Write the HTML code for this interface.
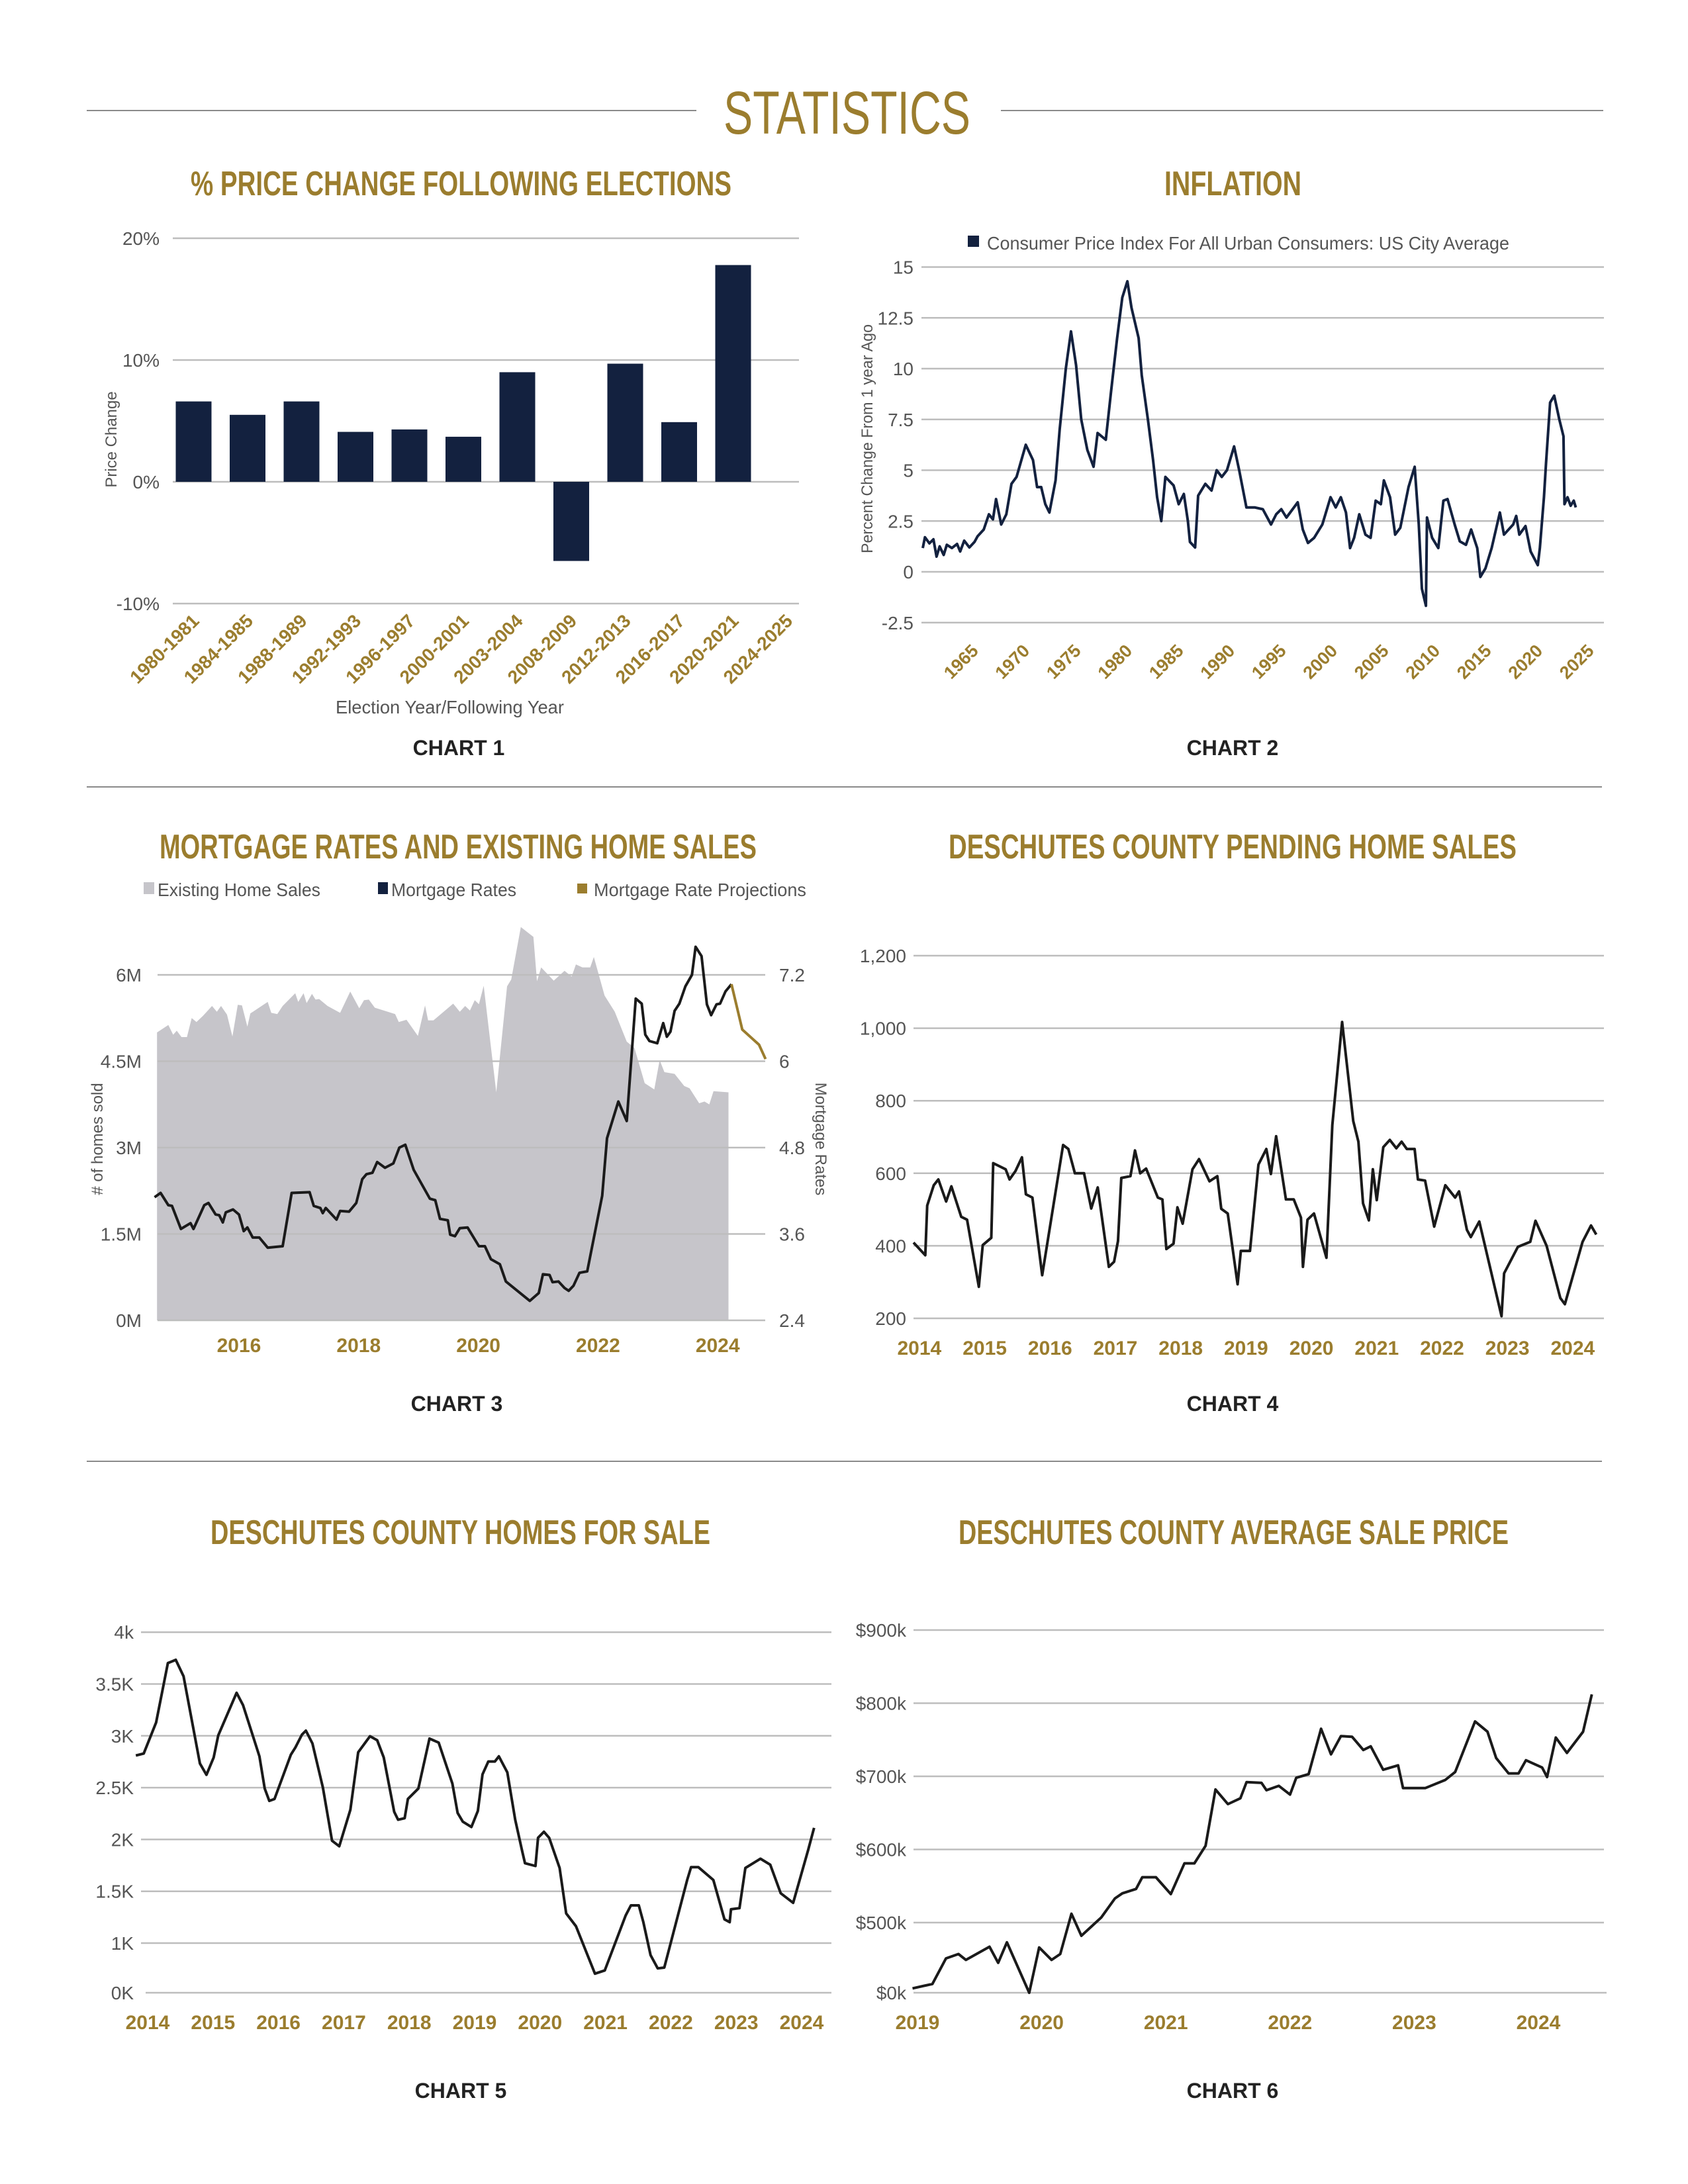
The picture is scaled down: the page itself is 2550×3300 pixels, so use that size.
<!DOCTYPE html>
<html><head><meta charset="utf-8"><style>
html,body{margin:0;padding:0;background:#fff;}
svg{display:block;font-family:"Liberation Sans",sans-serif;}
</style></head><body>
<svg id="page" xmlns="http://www.w3.org/2000/svg" width="2550" height="3300" viewBox="0 0 2550 3300">
<rect x="0" y="0" width="2550" height="3300" fill="#fff"/>
<line x1="131" y1="167" x2="1052" y2="167" stroke="#8a8a8a" stroke-width="2"/>
<line x1="1512" y1="167" x2="2422" y2="167" stroke="#8a8a8a" stroke-width="2"/>
<text x="1093" y="202" font-size="92" fill="#9b7d2e" textLength="373" lengthAdjust="spacingAndGlyphs">STATISTICS</text>
<line x1="131" y1="1189" x2="2420" y2="1189" stroke="#8a8a8a" stroke-width="2"/>
<line x1="131" y1="2208" x2="2420" y2="2208" stroke="#8a8a8a" stroke-width="2"/>

<text x="288" y="295" font-size="52" font-weight="bold" fill="#9b7d2e" textLength="817" lengthAdjust="spacingAndGlyphs">% PRICE CHANGE FOLLOWING ELECTIONS</text>
<text x="1759" y="295" font-size="52" font-weight="bold" fill="#9b7d2e" textLength="207" lengthAdjust="spacingAndGlyphs">INFLATION</text>
<text x="241" y="1297" font-size="52" font-weight="bold" fill="#9b7d2e" textLength="902" lengthAdjust="spacingAndGlyphs">MORTGAGE RATES AND EXISTING HOME SALES</text>
<text x="1433" y="1297" font-size="52" font-weight="bold" fill="#9b7d2e" textLength="858" lengthAdjust="spacingAndGlyphs">DESCHUTES COUNTY PENDING HOME SALES</text>
<text x="318" y="2333" font-size="52" font-weight="bold" fill="#9b7d2e" textLength="755" lengthAdjust="spacingAndGlyphs">DESCHUTES COUNTY HOMES FOR SALE</text>
<text x="1448" y="2333" font-size="52" font-weight="bold" fill="#9b7d2e" textLength="831" lengthAdjust="spacingAndGlyphs">DESCHUTES COUNTY AVERAGE SALE PRICE</text>

<text x="693" y="1141" font-size="32" font-weight="bold" fill="#222" text-anchor="middle">CHART 1</text>
<text x="1862" y="1141" font-size="32" font-weight="bold" fill="#222" text-anchor="middle">CHART 2</text>
<text x="690" y="2132" font-size="32" font-weight="bold" fill="#222" text-anchor="middle">CHART 3</text>
<text x="1862" y="2132" font-size="32" font-weight="bold" fill="#222" text-anchor="middle">CHART 4</text>
<text x="696" y="3170" font-size="32" font-weight="bold" fill="#222" text-anchor="middle">CHART 5</text>
<text x="1862" y="3170" font-size="32" font-weight="bold" fill="#222" text-anchor="middle">CHART 6</text>

<text x="507" y="1078" font-size="28" fill="#555" textLength="345" lengthAdjust="spacingAndGlyphs">Election Year/Following Year</text>
<text transform="translate(176,664) rotate(-90)" font-size="24" fill="#555" text-anchor="middle">Price Change</text>
<rect x="1462" y="356" width="17" height="17" fill="#13213f"/>
<text x="1491" y="377" font-size="28" fill="#555" textLength="789" lengthAdjust="spacingAndGlyphs">Consumer Price Index For All Urban Consumers: US City Average</text>
<text transform="translate(1318,663) rotate(-90)" font-size="24" fill="#555" text-anchor="middle" textLength="346" lengthAdjust="spacingAndGlyphs">Percent Change From 1 year Ago</text>

<rect x="217" y="1333" width="16" height="18" fill="#c6c5ca"/>
<text x="238" y="1354" font-size="28" fill="#555" textLength="246" lengthAdjust="spacingAndGlyphs">Existing Home Sales</text>
<rect x="571" y="1333" width="15" height="18" fill="#13213f"/>
<text x="591" y="1354" font-size="28" fill="#555" textLength="189" lengthAdjust="spacingAndGlyphs">Mortgage Rates</text>
<rect x="872" y="1335" width="15" height="15" fill="#9b7d2e"/>
<text x="897" y="1354" font-size="28" fill="#555" textLength="321" lengthAdjust="spacingAndGlyphs">Mortgage Rate Projections</text>
<text transform="translate(155,1721) rotate(-90)" font-size="24" fill="#555" text-anchor="middle"># of homes sold</text>
<text transform="translate(1232,1721) rotate(90)" font-size="24" fill="#555" text-anchor="middle">Mortgage Rates</text>
<g id="charts"></g>
</svg>
<script>
// ---------- DATA ----------
const c1Categories = ["1980-1981","1984-1985","1988-1989","1992-1993","1996-1997","2000-2001","2003-2004","2008-2009","2012-2013","2016-2017","2020-2021","2024-2025"];
const c1Values = [6.6, 5.5, 6.6, 4.1, 4.3, 3.7, 9.0, -6.5, 9.7, 4.9, 17.8, null];
const c1Ticks = [20, 10, 0, -10];
const c1TickLabels = ["20%","10%","0%","-10%"];

const c2Years = [1960.26,1960.47,1960.9,1961.3,1961.6,1961.9,1962.3,1962.6,1963.1,1963.6,1963.9,1964.3,1964.8,1965.3,1965.6,1966.2,1966.7,1967.1,1967.4,1967.9,1968.4,1968.9,1969.4,1970.3,1971.0,1971.4,1971.8,1972.2,1972.6,1973.2,1973.6,1974.2,1974.7,1975.2,1975.7,1976.3,1976.9,1977.3,1978.1,1978.6,1979.2,1979.7,1980.2,1980.6,1981.3,1981.6,1982.2,1982.7,1983.1,1983.5,1983.9,1984.7,1985.2,1985.7,1986.1,1986.3,1986.8,1987.1,1987.8,1988.4,1988.9,1989.4,1989.9,1990.6,1991.1,1991.8,1992.6,1993.4,1994.2,1994.7,1995.2,1995.7,1996.8,1997.3,1997.8,1998.4,1999.2,2000.0,2000.5,2001.0,2001.5,2001.9,2002.3,2002.8,2003.4,2003.9,2004.4,2004.9,2005.2,2005.8,2006.3,2006.8,2007.6,2008.2,2008.6,2008.9,2009.3,2009.4,2009.9,2010.5,2011.0,2011.4,2012.1,2012.6,2013.2,2013.7,2014.3,2014.6,2015.1,2015.7,2016.5,2016.9,2017.8,2018.1,2018.4,2019.0,2019.5,2020.2,2020.4,2020.8,2021.0,2021.4,2021.8,2022.3,2022.7,2022.8,2023.1,2023.4,2023.7,2023.9];
const c2Values = [1.17,1.7,1.4,1.6,0.75,1.25,0.83,1.33,1.17,1.37,1.0,1.53,1.2,1.47,1.75,2.08,2.83,2.58,3.58,2.33,2.83,4.33,4.67,6.25,5.5,4.17,4.17,3.33,2.92,4.5,7.0,10.0,11.83,10.17,7.5,6.0,5.17,6.83,6.5,8.83,11.5,13.5,14.3,13.0,11.5,9.67,7.5,5.5,3.67,2.5,4.67,4.25,3.33,3.83,2.5,1.47,1.2,3.75,4.33,4.0,5.0,4.67,5.0,6.17,5.0,3.17,3.17,3.08,2.33,2.83,3.08,2.67,3.42,2.08,1.42,1.67,2.33,3.67,3.17,3.67,2.92,1.17,1.67,2.83,1.83,1.67,3.5,3.33,4.5,3.67,1.83,2.17,4.17,5.17,2.33,-0.83,-1.67,2.67,1.67,1.17,3.5,3.58,2.33,1.5,1.33,2.08,1.17,-0.25,0.17,1.17,2.92,1.83,2.33,2.75,1.83,2.25,1.0,0.33,1.17,3.67,5.33,8.33,8.67,7.5,6.67,3.33,3.67,3.25,3.5,3.17];
const c2Ticks = [15,12.5,10,7.5,5,2.5,0,-2.5];
const c2TickLabels = ["15","12.5","10","7.5","5","2.5","0","-2.5"];
const c2YearTicks = [1965,1970,1975,1980,1985,1990,1995,2000,2005,2010,2015,2020,2025];

const c3SalesYears = [2014.63,2014.82,2014.9,2014.96,2015.04,2015.13,2015.21,2015.29,2015.4,2015.55,2015.63,2015.7,2015.8,2015.89,2015.98,2016.05,2016.14,2016.19,2016.48,2016.54,2016.64,2016.73,2016.94,2016.99,2017.08,2017.13,2017.22,2017.28,2017.34,2017.48,2017.69,2017.86,2018.01,2018.09,2018.17,2018.27,2018.61,2018.67,2018.8,2018.99,2019.11,2019.16,2019.25,2019.41,2019.58,2019.69,2019.78,2019.86,2019.94,2020.01,2020.09,2020.3,2020.48,2020.55,2020.71,2020.92,2020.98,2021.05,2021.26,2021.44,2021.56,2021.63,2021.74,2021.87,2021.93,2022.11,2022.28,2022.48,2022.61,2022.78,2022.94,2023.03,2023.11,2023.28,2023.44,2023.53,2023.69,2023.78,2023.86,2023.93,2024.18];
const c3SalesValues = [5.00,5.13,4.96,5.03,4.92,4.92,5.25,5.18,5.29,5.46,5.36,5.46,5.31,4.93,5.48,5.47,5.10,5.33,5.53,5.34,5.32,5.46,5.68,5.53,5.68,5.51,5.67,5.57,5.58,5.46,5.34,5.71,5.42,5.56,5.57,5.43,5.32,5.18,5.22,4.94,5.47,5.21,5.21,5.35,5.50,5.36,5.46,5.38,5.56,5.49,5.81,3.96,5.80,5.92,6.83,6.66,5.89,6.13,5.90,6.07,5.97,6.18,6.13,6.13,6.31,5.64,5.36,4.84,4.73,4.12,4.01,4.52,4.31,4.28,4.07,4.03,3.77,3.80,3.75,3.98,3.96];
const c3RateYears = [2014.59,2014.69,2014.82,2014.88,2015.03,2015.19,2015.24,2015.42,2015.49,2015.61,2015.67,2015.73,2015.78,2015.9,2016.0,2016.08,2016.14,2016.23,2016.34,2016.48,2016.73,2016.88,2017.18,2017.25,2017.36,2017.4,2017.45,2017.63,2017.69,2017.84,2017.96,2018.06,2018.13,2018.23,2018.31,2018.44,2018.58,2018.68,2018.78,2018.92,2019.19,2019.28,2019.36,2019.49,2019.53,2019.61,2019.69,2019.82,2020.01,2020.11,2020.21,2020.36,2020.46,2020.86,2021.01,2021.08,2021.19,2021.24,2021.34,2021.44,2021.51,2021.59,2021.69,2021.82,2022.07,2022.15,2022.34,2022.48,2022.63,2022.73,2022.79,2022.86,2022.99,2023.09,2023.15,2023.21,2023.28,2023.36,2023.46,2023.57,2023.63,2023.73,2023.82,2023.89,2023.98,2024.04,2024.13,2024.23];
const c3RateValues = [4.11,4.17,4.0,3.99,3.67,3.75,3.67,4.0,4.03,3.87,3.86,3.76,3.90,3.94,3.87,3.64,3.69,3.55,3.55,3.41,3.43,4.17,4.18,3.99,3.96,3.89,3.96,3.80,3.92,3.91,4.03,4.36,4.43,4.45,4.60,4.52,4.58,4.80,4.84,4.49,4.09,4.07,3.81,3.79,3.59,3.57,3.68,3.69,3.43,3.43,3.25,3.18,2.94,2.67,2.78,3.04,3.03,2.93,2.94,2.85,2.81,2.88,3.06,3.08,4.13,4.93,5.44,5.17,6.87,6.80,6.37,6.28,6.25,6.53,6.34,6.41,6.70,6.80,7.04,7.20,7.59,7.46,6.79,6.64,6.79,6.80,6.97,7.07];
const c3ProjYears = [2024.23,2024.41,2024.69,2024.8];
const c3ProjValues = [7.07,6.44,6.23,6.03];
const c3SalesTicks = [6,4.5,3,1.5,0];
const c3SalesTickLabels = ["6M","4.5M","3M","1.5M","0M"];
const c3RateTicks = [7.2,6,4.8,3.6,2.4];
const c3RateTickLabels = ["7.2","6","4.8","3.6","2.4"];
const c3YearTicks = [2016,2018,2020,2022,2024];

const c4Years = [2014.0,2014.18,2014.21,2014.31,2014.38,2014.5,2014.58,2014.73,2014.82,2015.0,2015.06,2015.19,2015.22,2015.41,2015.47,2015.56,2015.66,2015.72,2015.82,2015.97,2016.29,2016.37,2016.47,2016.61,2016.72,2016.82,2016.99,2017.07,2017.13,2017.18,2017.32,2017.39,2017.47,2017.56,2017.74,2017.81,2017.87,2017.98,2018.04,2018.12,2018.27,2018.37,2018.53,2018.65,2018.71,2018.81,2018.96,2019.01,2019.15,2019.28,2019.4,2019.47,2019.55,2019.7,2019.82,2019.93,2019.96,2020.03,2020.13,2020.32,2020.41,2020.56,2020.73,2020.81,2020.88,2020.97,2021.03,2021.09,2021.19,2021.29,2021.39,2021.47,2021.55,2021.67,2021.72,2021.83,2021.97,2022.14,2022.29,2022.35,2022.47,2022.53,2022.66,2023.0,2023.04,2023.25,2023.44,2023.52,2023.69,2023.9,2023.97,2024.24,2024.37,2024.45];
const c4Values = [409,374,511,567,583,522,564,480,472,287,402,422,628,611,583,606,644,542,533,319,678,667,600,600,503,561,342,356,413,587,592,663,600,613,533,528,391,406,506,461,611,639,578,592,502,489,294,386,386,624,667,598,702,528,528,478,342,472,489,367,733,1017,744,687,517,470,611,526,672,692,669,687,667,667,583,580,453,567,533,550,444,424,467,206,324,397,411,469,400,256,239,411,456,431];
const c4Ticks = [1200,1000,800,600,400,200];
const c4TickLabels = ["1,200","1,000","800","600","400","200"];
const c4YearTicks = [2014,2015,2016,2017,2018,2019,2020,2021,2022,2023,2024];

const c5Years = [2013.82,2013.94,2014.13,2014.31,2014.43,2014.55,2014.8,2014.9,2015.01,2015.08,2015.36,2015.46,2015.71,2015.79,2015.86,2015.94,2016.19,2016.26,2016.36,2016.42,2016.52,2016.68,2016.82,2016.93,2017.1,2017.22,2017.4,2017.51,2017.61,2017.77,2017.83,2017.93,2017.98,2018.14,2018.31,2018.45,2018.66,2018.74,2018.82,2018.95,2019.05,2019.12,2019.21,2019.31,2019.37,2019.5,2019.62,2019.73,2019.77,2019.93,2019.97,2020.06,2020.14,2020.3,2020.4,2020.55,2020.84,2020.99,2021.31,2021.39,2021.51,2021.58,2021.69,2021.8,2021.9,2022.25,2022.31,2022.42,2022.65,2022.82,2022.9,2022.92,2023.05,2023.14,2023.37,2023.52,2023.68,2023.87,2024.1,2024.19];
const c5Values = [2810,2829,3128,3702,3733,3574,2733,2624,2791,3004,3415,3295,2802,2492,2372,2391,2818,2888,3012,3050,2926,2500,1988,1934,2287,2841,2996,2957,2791,2267,2190,2205,2391,2492,2973,2934,2539,2256,2171,2120,2275,2628,2752,2752,2802,2647,2190,1880,1771,1744,2016,2074,2016,1725,1287,1163,705,736,1267,1364,1364,1202,884,756,764,1609,1733,1733,1609,1229,1202,1326,1337,1725,1814,1756,1481,1388,1899,2112];
const c5Ticks = [4000,3500,3000,2500,2000,1500,1000];
const c5TickLabels = ["4k","3.5K","3K","2.5K","2K","1.5K","1K"];
const c5YearTicks = [2014,2015,2016,2017,2018,2019,2020,2021,2022,2023,2024];

const c6Years = [2018.96,2019.12,2019.23,2019.33,2019.39,2019.58,2019.65,2019.72,2019.9,2019.98,2020.08,2020.15,2020.24,2020.32,2020.48,2020.59,2020.65,2020.76,2020.81,2020.92,2021.04,2021.15,2021.23,2021.32,2021.4,2021.5,2021.6,2021.65,2021.77,2021.81,2021.91,2022.0,2022.05,2022.15,2022.25,2022.33,2022.41,2022.5,2022.59,2022.65,2022.75,2022.87,2022.91,2023.09,2023.25,2023.33,2023.49,2023.59,2023.66,2023.76,2023.84,2023.9,2024.03,2024.07,2024.14,2024.23,2024.36,2024.43];
const c6Values = [410,416,451,457,449,467,445,473,404,466,449,457,512,482,507,533,540,546,562,562,539,581,581,605,682,662,670,692,691,681,687,675,698,703,765,730,755,754,736,741,709,715,684,684,695,706,775,761,725,704,704,722,712,699,753,732,761,812];
const c6Ticks = [900,800,700,600,500];
const c6TickLabels = ["$900k","$800k","$700k","$600k","$500k"];
const c6YearTicks = [2019,2020,2021,2022,2023,2024];

// ---------- DRAWING ----------
const NS = 'http://www.w3.org/2000/svg';
const root = document.getElementById('charts');
function mk(tag, attrs, parent) {
  const el = document.createElementNS(NS, tag);
  for (const k in attrs) el.setAttribute(k, attrs[k]);
  (parent || root).appendChild(el);
  return el;
}
const GOLD = '#9b7d2e', NAVY = '#13213f', GRID = '#bdbdbd', TICK = '#555';

function gridline(x1, x2, y, name) {
  const el = mk('line', {x1: x1, x2: x2, y1: y, y2: y, stroke: GRID, 'stroke-width': 2.5});
  
  
}
function label(x, y, str, anchor, size, color, weight, name, rot) {
  const a = {x: x, y: y, 'font-size': size, fill: color, 'text-anchor': anchor};
  if (weight) a['font-weight'] = weight;
  if (rot) a.transform = 'rotate(' + rot + ' ' + x + ' ' + y + ')';
  const el = mk('text', a);
  el.textContent = str;
  
  
  return el;
}
function polyline(xs, ys, fx, fy, color, w, name) {
  const pts = xs.map((v, i) => fx(v).toFixed(1) + ',' + fy(ys[i]).toFixed(1)).join(' ');
  const el = mk('polyline', {points: pts, fill: 'none', stroke: color, 'stroke-width': w, 'stroke-linejoin': 'round'});
  
  
  return el;
}

// Chart 1
const c1x = i => 292.5 + i * 81.5;
const c1y = v => 728 - v * 18.4;
c1Ticks.forEach((t, i) => {
  gridline(261, 1207, c1y(t), 'chart1-gridline');
  label(241, c1y(t) + 10, c1TickLabels[i], 'end', 28, TICK, null, 'chart1-y-tick-label');
});
c1Values.forEach((v, i) => {
  if (v === null) return;
  const y0 = c1y(0), y1 = c1y(v);
  const el = mk('rect', {x: c1x(i) - 27, y: Math.min(y0, y1), width: 54, height: Math.abs(y1 - y0), fill: NAVY});
  
  
});
c1Categories.forEach((c, i) => {
  label(c1x(i) + 10, 940, c, 'end', 28, GOLD, 'bold', 'chart1-x-tick-label', -45);
});

// Chart 2
const c2x = yr => 1390 + (yr - 1960) * 15.5;
const c2y = v => 864 - v * 30.7;
c2Ticks.forEach((t, i) => {
  gridline(1392, 2423, c2y(t), 'chart2-gridline');
  label(1380, c2y(t) + 10, c2TickLabels[i], 'end', 28, TICK, null, 'chart2-y-tick-label');
});
c2YearTicks.forEach(yr => {
  label(c2x(yr) + 12, 985, String(yr), 'end', 27, GOLD, 'bold', 'chart2-x-tick-label', -45);
});
polyline(c2Years, c2Values, c2x, c2y, NAVY, 4, 'cpi-line');

// Chart 3
const c3x = yr => 361 + (yr - 2016) * 90.4;
const c3ys = v => 1995 - v * 87;
const c3yr = r => 1995 - (r - 2.4) * 108.75;
{
  let pts = c3SalesYears.map((yr, i) => c3x(yr).toFixed(1) + ',' + c3ys(c3SalesValues[i]).toFixed(1));
  pts.push(c3x(c3SalesYears[c3SalesYears.length - 1]).toFixed(1) + ',' + c3ys(0));
  pts.push(c3x(c3SalesYears[0]).toFixed(1) + ',' + c3ys(0));
  const area = mk('polygon', {points: pts.join(' '), fill: '#c6c5ca'});
  
  
}
c3SalesTicks.forEach((t, i) => {
  gridline(238, 1156, c3ys(t), 'chart3-gridline');
  label(214, c3ys(t) + 10, c3SalesTickLabels[i], 'end', 28, TICK, null, 'chart3-left-tick-label');
  label(1177, c3yr(c3RateTicks[i]) + 10, c3RateTickLabels[i], 'start', 28, TICK, null, 'chart3-right-tick-label');
});
c3YearTicks.forEach(yr => {
  label(c3x(yr), 2043, String(yr), 'middle', 30, GOLD, 'bold', 'chart3-x-tick-label');
});
polyline(c3RateYears, c3RateValues, c3x, c3yr, '#1a1a1a', 4, 'mortgage-rate-line');
polyline(c3ProjYears, c3ProjValues, c3x, c3yr, GOLD, 4, 'mortgage-rate-projection-line');

// Chart 4
const c4x = yr => 1380 + (yr - 2014) * 98.7;
const c4y = v => 1992 - (v - 200) * 0.548;
c4Ticks.forEach((t, i) => {
  gridline(1380, 2423, c4y(t), 'chart4-gridline');
  label(1369, c4y(t) + 10, c4TickLabels[i], 'end', 28, TICK, null, 'chart4-y-tick-label');
});
c4YearTicks.forEach(yr => {
  label(c4x(yr + 0.09), 2047, String(yr), 'middle', 30, GOLD, 'bold', 'chart4-x-tick-label');
});
polyline(c4Years, c4Values, c4x, c4y, '#1a1a1a', 4, 'pending-sales-line');

// Chart 5
const c5x = yr => 223 + (yr - 2014) * 98.8;
const c5y = v => 2936 - (v - 1000) * 0.1566;
c5Ticks.forEach((t, i) => {
  gridline(213, 1256, c5y(t), 'chart5-gridline');
  label(202, c5y(t) + 10, c5TickLabels[i], 'end', 28, TICK, null, 'chart5-y-tick-label');
});
gridline(220, 1256, 3011, 'chart5-baseline');
label(202, 3021, '0K', 'end', 28, TICK, null, 'chart5-y-tick-label');
c5YearTicks.forEach(yr => {
  label(c5x(yr), 3066, String(yr), 'middle', 30, GOLD, 'bold', 'chart5-x-tick-label');
});
polyline(c5Years, c5Values, c5x, c5y, '#1a1a1a', 4, 'homes-for-sale-line');

// Chart 6
const c6x = yr => 1386 + (yr - 2019) * 187.6;
const c6y = v => 2905 - (v - 500) * 1.105;
c6Ticks.forEach((t, i) => {
  gridline(1380, 2423, c6y(t), 'chart6-gridline');
  label(1369, c6y(t) + 10, c6TickLabels[i], 'end', 28, TICK, null, 'chart6-y-tick-label');
});
gridline(1380, 2427, 3011, 'chart6-baseline');
label(1369, 3021, '$0k', 'end', 28, TICK, null, 'chart6-y-tick-label');
c6YearTicks.forEach(yr => {
  label(c6x(yr), 3066, String(yr), 'middle', 30, GOLD, 'bold', 'chart6-x-tick-label');
});
polyline(c6Years, c6Values, c6x, c6y, '#1a1a1a', 4, 'average-sale-price-line');
</script>
</body></html>
